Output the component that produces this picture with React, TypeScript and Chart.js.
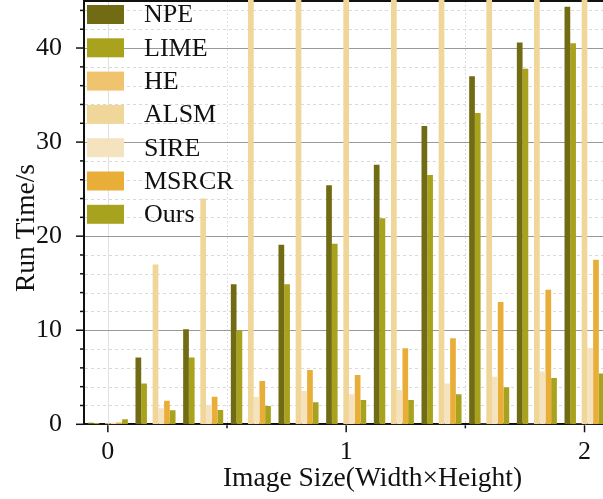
import React, { useEffect, useRef } from 'react';
import { Chart, registerables } from 'chart.js';

Chart.register(...registerables);

// ---- data ----
const imageSizes = [0, 0.2, 0.4, 0.6, 0.8, 1.0, 1.2, 1.4, 1.6, 1.8, 2.0];
const npeTimes = [0.17, 7.1, 10.1, 14.9, 19.1, 25.4, 27.6, 31.7, 37.0, 40.6, 44.4];
const limeTimes = [0.15, 4.35, 7.1, 10.0, 14.9, 19.2, 21.9, 26.5, 33.1, 37.8, 40.5];
const heTimes = [0.01, 0.02, 0.02, 0.03, 0.03, 0.04, 0.04, 0.04, 0.05, 0.05, 0.05];
const alsmTimes = [0.12, 17.0, 24.0, 52, 68, 85, 104, 126, 150, 176, 205];
const sireTimes = [0.2, 1.7, 2.05, 2.9, 3.55, 3.2, 3.65, 4.35, 5.05, 5.6, 8.1];
const msrcrTimes = [0.2, 2.5, 2.94, 4.6, 5.78, 5.25, 8.08, 9.15, 13.0, 14.3, 17.5];
const oursTimes = [0.55, 1.5, 1.52, 1.95, 2.35, 2.58, 2.58, 3.2, 3.94, 4.92, 5.4];

const seriesNames = ['NPE', 'LIME', 'HE', 'ALSM', 'SIRE', 'MSRCR', 'Ours'];
const seriesValues = [npeTimes, limeTimes, heTimes, alsmTimes, sireTimes, msrcrTimes, oursTimes];
const seriesColors = ['#716c14', '#a9a21d', '#f0c46e', '#f1d69a', '#f5e3bf', '#e8ae38', '#a8a31f'];

const yTickValues = [0, 10, 20, 30, 40];
const xTickLabels = ['0', '1', '2'];
const xAxisTitle = 'Image Size(Width\u00d7Height)';
const yAxisTitle = 'Run Time/s';

const FONT = "'Liberation Serif', 'Times New Roman', serif";
const INK = '#111111';

const line = (ctx: CanvasRenderingContext2D, x1: number, y1: number, x2: number, y2: number) => {
  ctx.beginPath();
  ctx.moveTo(x1, y1);
  ctx.lineTo(x2, y2);
  ctx.stroke();
};

const decorPlugin = {
  id: 'decor',
  beforeDatasetsDraw(chart: any) {
    const { ctx, chartArea: a, scales } = chart;
    const x = scales.x;
    const y = scales.y;
    ctx.save();
    ctx.lineWidth = 1;
    // minor horizontal dashed grid
    ctx.strokeStyle = '#d9d9d9';
    ctx.setLineDash([3, 3]);
    for (let v = 2; v < y.max; v += 2) {
      if (v % 10 === 0) continue;
      const py = Math.round(y.getPixelForValue(v)) + 0.5;
      line(ctx, a.left + 1, py, a.right, py);
    }
    // minor vertical dotted grid
    ctx.strokeStyle = '#dcdce4';
    ctx.setLineDash([2, 2]);
    for (let v = 0.5; v < x.max; v += 1) {
      const px = Math.round(x.getPixelForValue(v)) + 0.5;
      line(ctx, px, a.top, px, a.bottom);
    }
    ctx.setLineDash([]);
    // major vertical grid
    ctx.strokeStyle = '#e0e0e0';
    for (let v = 0; v <= x.max; v += 1) {
      const px = Math.round(x.getPixelForValue(v)) + 0.5;
      line(ctx, px, a.top, px, a.bottom);
    }
    // major horizontal grid
    ctx.strokeStyle = '#999999';
    yTickValues.forEach((v) => {
      if (v === 0) return;
      const py = Math.round(y.getPixelForValue(v)) + 0.5;
      line(ctx, a.left + 1, py, a.right, py);
    });
    // top frame
    ctx.strokeStyle = INK;
    ctx.lineWidth = 2;
    line(ctx, a.left - 1, a.top, a.right, a.top);
    ctx.restore();
  },
  afterDraw(chart: any) {
    const { ctx, chartArea: a, scales } = chart;
    const x = scales.x;
    const y = scales.y;
    ctx.save();
    ctx.strokeStyle = INK;
    ctx.lineWidth = 1.5;
    // y ticks (outward)
    for (let v = 0; v < y.max; v += 2) {
      const len = v % 10 === 0 ? 8 : 4;
      const py = y.getPixelForValue(v);
      line(ctx, a.left - len, py, a.left, py);
    }
    // x ticks (outward)
    for (let v = 0; v <= x.max; v += 0.5) {
      const len = Number.isInteger(v) ? 7 : 3;
      const px = x.getPixelForValue(v);
      line(ctx, px, a.bottom + 1, px, a.bottom + 1 + len);
    }
    // legend inside plot
    ctx.font = `26px ${FONT}`;
    ctx.textAlign = 'left';
    ctx.textBaseline = 'middle';
    chart.data.datasets.forEach((ds: any, i: number) => {
      const cy = a.top + 13.5 + i * 33.3;
      ctx.fillStyle = ds.backgroundColor;
      ctx.fillRect(87, cy - 9.5, 37, 19);
      ctx.fillStyle = INK;
      ctx.fillText(ds.label, 144, cy + 1);
    });
    // axis titles
    ctx.font = `27.5px ${FONT}`;
    ctx.fillStyle = INK;
    ctx.textAlign = 'center';
    ctx.textBaseline = 'alphabetic';
    ctx.fillText(xAxisTitle, 372.5, 486);
    ctx.translate(34, 228);
    ctx.rotate(-Math.PI / 2);
    ctx.fillText(yAxisTitle, 0, 0);
    ctx.restore();
  },
};

export default function App() {
  const canvasRef = useRef<HTMLCanvasElement | null>(null);

  useEffect(() => {
    document.body.style.margin = '0';
    const canvas = canvasRef.current;
    if (!canvas) return;
    const datasets = seriesNames.map((name, i) => ({
      label: name,
      data: imageSizes.map((s, j) => ({ x: s, y: seriesValues[i][j] })),
      backgroundColor: seriesColors[i],
      borderWidth: 0,
      barPercentage: 1,
      categoryPercentage: 0.84,
      clip: { top: 2, left: 0, right: 0, bottom: 0 },
    }));
    const chart = new Chart(canvas, {
      type: 'bar',
      data: { datasets },
      plugins: [decorPlugin],
      options: {
        animation: false,
        responsive: false,
        devicePixelRatio: 1,
        layout: { padding: { top: 1, left: 0, right: 0, bottom: 0 } },
        plugins: {
          legend: { display: false },
          tooltip: { enabled: false },
        },
        scales: {
          x: {
            type: 'linear',
            min: -0.1,
            max: 2.0775,
            offset: false,
            grid: { display: false },
            border: { display: true, color: INK, width: 2 },
            ticks: {
              stepSize: 1,
              includeBounds: false,
              autoSkip: false,
              maxRotation: 0,
              padding: 4,
              color: INK,
              font: { family: FONT, size: 26 },
              callback: (v: any) => (Number.isInteger(v) ? xTickLabels[v] ?? String(v) : ''),
            },
            afterFit: (s: any) => {
              s.height = 499 - 424.3;
              s.paddingLeft = 0;
              s.paddingRight = 0;
              s.paddingTop = 0;
              s.paddingBottom = 0;
            },
          },
          y: {
            type: 'linear',
            min: 0,
            max: 45,
            grid: { display: false },
            border: { display: true, color: INK, width: 2 },
            ticks: {
              stepSize: 10,
              includeBounds: false,
              padding: 14,
              color: INK,
              font: { family: FONT, size: 26 },
              callback: (v: any) => (yTickValues.includes(v) ? String(v) : ''),
            },
            afterFit: (s: any) => {
              s.width = 84;
              s.paddingLeft = 0;
              s.paddingRight = 0;
              s.paddingTop = 0;
              s.paddingBottom = 0;
            },
          },
        },
      } as any,
    });
    return () => chart.destroy();
  }, []);

  return (
    <div style={{ position: 'fixed', left: 0, top: 0, width: 603, height: 499, overflow: 'hidden', background: '#fff' }}>
      <canvas ref={canvasRef} width={603} height={499} style={{ display: 'block' }} />
    </div>
  );
}
